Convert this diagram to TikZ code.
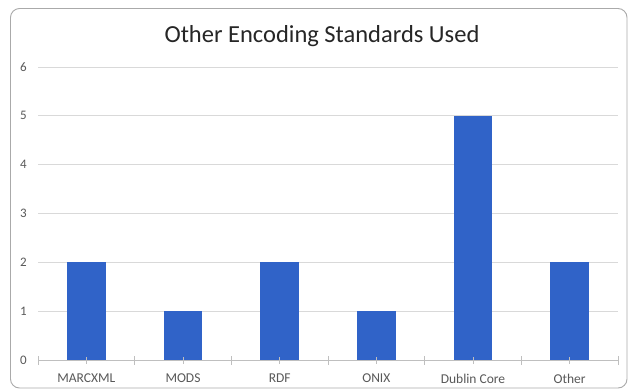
\documentclass[tikz,border=0pt]{standalone}
\usepackage{fontspec}
\setmainfont{Carlito}
\definecolor{barblue}{RGB}{48,99,200}
\definecolor{gridgray}{RGB}{217,217,217}
\definecolor{axisgray}{RGB}{191,191,191}
\definecolor{labelgray}{RGB}{89,89,89}
\definecolor{titlegray}{RGB}{38,38,38}
\definecolor{framegray}{RGB}{170,170,170}
\begin{document}
\begin{tikzpicture}[x=1pt,y=-1pt,
  frame/.style={draw=framegray,line width=0.9pt,rounded corners=9pt},
  grid/.style={draw=gridgray,line width=0.9pt},
  axis/.style={draw=axisgray,line width=0.9pt},
  bar/.style={fill=barblue},
  ylab/.style={anchor=east,text=labelgray,font=\fontsize{13}{13}\selectfont,inner sep=0pt},
  xlab/.style={anchor=center,text=labelgray,font=\fontsize{13.5}{13.5}\selectfont,inner sep=0pt},
  titletext/.style={anchor=center,text=titlegray,font=\fontsize{24.5}{24.5}\selectfont,inner sep=0pt}]
\useasboundingbox (0,0) rectangle (630,389);
\fill[white] (0,0) rectangle (630,389);
% frame
\draw[frame] (10.5,8.5) rectangle (627,388);
% title
\node[titletext] (title) at (322,36) {Other Encoding Standards Used};
% gridlines and y labels
\foreach \v in {1,...,6}{
  \draw[grid] (38,{360-48.83*\v}) -- (618,{360-48.83*\v});
}
\foreach \v in {0,...,6}{
  \node[ylab] (y\v) at (27,{360-48.83*\v}) {\v};
}
% bars
\def\bw{19.2}
\foreach \i/\val/\name in {0/2/MARCXML,1/1/MODS,2/2/RDF,3/1/ONIX,4/5/Dublin Core,5/2/Other}{
  \pgfmathsetmacro{\cx}{38+96.67*(\i+0.5)}
  \fill[bar] ({\cx-\bw},{360-48.83*\val}) rectangle ({\cx+\bw},360);
  \node[xlab] (c\i) at (\cx,378.5) {\name};
  \draw[axis] (\cx,357) -- (\cx,363.5);
}
% axis
\draw[axis] (38,360) -- (618,360);
\foreach \i in {0,...,6}{
  \draw[axis] ({38+96.67*\i},356) -- ({38+96.67*\i},365);
}
\end{tikzpicture}
\end{document}
